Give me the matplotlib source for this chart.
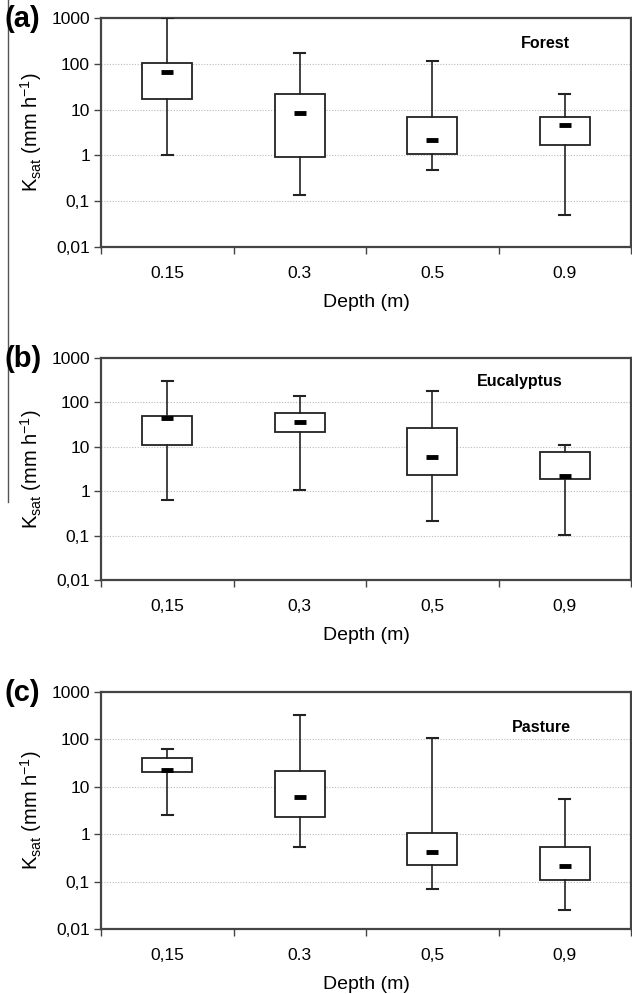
import matplotlib
matplotlib.use("Agg")
import matplotlib.pyplot as plt
from matplotlib.lines import Line2D
import numpy as np

plt.rcParams['font.family'] = ['Liberation Sans', 'DejaVu Sans']
plt.rcParams['mathtext.fontset'] = 'custom'
plt.rcParams['mathtext.rm'] = 'Liberation Sans'

depths = ['0.15', '0.3', '0.5', '0.9']
panels = ['(a)', '(b)', '(c)']
land_uses = ['Forest', 'Eucalyptus', 'Pasture']
xticklabels = [['0.15', '0.3', '0.5', '0.9'],
               ['0,15', '0,3', '0,5', '0,9'],
               ['0,15', '0.3', '0,5', '0,9']]

# Ksat (mm h-1) per depth: whisker low, Q1, median, Q3, whisker high
forest_lo = [1.0, 0.14, 0.48, 0.05]
forest_q1 = [17, 0.9, 1.1, 1.65]
forest_med = [65, 8.5, 2.2, 4.7]
forest_q3 = [105, 22, 7, 7]
forest_hi = [1000, 170, 115, 22]

euc_lo = [0.65, 1.05, 0.21, 0.105]
euc_q1 = [11, 22, 2.3, 1.85]
euc_med = [44, 36, 5.8, 2.2]
euc_q3 = [50, 58, 26, 7.8]
euc_hi = [300, 140, 185, 11]

past_lo = [2.6, 0.53, 0.07, 0.025]
past_q1 = [21, 2.3, 0.22, 0.11]
past_med = [23, 6, 0.43, 0.21]
past_q3 = [40, 22, 1.05, 0.53]
past_hi = [62, 330, 108, 5.6]

data = [(forest_lo, forest_q1, forest_med, forest_q3, forest_hi),
        (euc_lo, euc_q1, euc_med, euc_q3, euc_hi),
        (past_lo, past_q1, past_med, past_q3, past_hi)]

W, H = 632, 994
fig = plt.figure(figsize=(W / 100, H / 100), dpi=100)

# axes boxes in pixels: left, top, right, bottom
boxes = [(101, 18, 631, 247), (101, 358, 631, 580), (101, 692, 631, 929)]
title_pos = [(0.838, 0.89), (0.79, 0.895), (0.83, 0.85)]

spine_col = '#444444'
yticks = [0.01, 0.1, 1, 10, 100, 1000]
ytick_labels = ['0,01', '0,1', '1', '10', '100', '1000']

for i in range(3):
    l, t, r, b = boxes[i]
    ax = fig.add_axes([l / W, 1 - b / H, (r - l) / W, (b - t) / H])
    lo, q1, med, q3, hi = data[i]
    stats = []
    for j in range(len(depths)):
        stats.append({'whislo': lo[j], 'q1': q1[j], 'med': med[j],
                      'q3': q3[j], 'whishi': hi[j], 'fliers': []})
    pos = np.arange(1, len(depths) + 1)
    ax.bxp(stats, positions=pos, widths=0.38, capwidths=0.08,
           showfliers=False, patch_artist=True,
           boxprops=dict(facecolor='white', edgecolor='#222222', linewidth=1.3),
           whiskerprops=dict(color='#222222', linewidth=1.2),
           capprops=dict(color='#222222', linewidth=1.5),
           medianprops=dict(visible=False), zorder=3)
    ax.plot(pos, med, linestyle='none', marker='_', markersize=9,
            markeredgewidth=3.5, color='black', zorder=4)

    ax.set_yscale('log')
    ax.set_ylim(0.01, 1000)
    ax.set_yticks(yticks)
    ax.set_yticklabels(ytick_labels)
    ax.yaxis.set_minor_locator(matplotlib.ticker.NullLocator())
    ax.set_xlim(0.5, 4.5)
    ax.set_xticks(np.arange(0.5, 4.6, 1.0))
    ax.set_xticklabels([])
    ax.set_xticks(pos, minor=True)
    ax.set_xticklabels(xticklabels[i], minor=True)
    ax.tick_params(axis='x', which='major', direction='out', length=5,
                   width=1, color=spine_col)
    ax.tick_params(axis='x', which='minor', length=0, pad=14, labelsize=12.5)
    ax.tick_params(axis='y', direction='out', length=5, width=1,
                   color=spine_col, labelsize=12.5, pad=3)
    for s in ax.spines.values():
        s.set_color(spine_col)
        s.set_linewidth(1.6)
    for v in [0.1, 1, 10, 100]:
        ax.axhline(v, color='#bbbbbb', linestyle=(0, (1, 1.5)),
                   linewidth=0.8, zorder=1)

    ax.set_xlabel('Depth (m)', fontsize=14, labelpad=9)
    ax.set_ylabel(r'K$_{\mathregular{sat}}$ (mm h$^{\mathregular{-1}}$)',
                  fontsize=14.5, labelpad=5)
    ax.text(title_pos[i][0], title_pos[i][1], land_uses[i],
            transform=ax.transAxes, ha='center', va='center',
            fontsize=11.5, fontweight='bold')
    fig.text(5 / W, 1 - (t + 1) / H, panels[i], ha='left', va='center',
             fontsize=21, fontweight='bold')

# thin scan border on the left edge
fig.add_artist(Line2D([8 / W, 8 / W], [1.0, 1 - 502 / H],
                      color='#555555', linewidth=1.0))

fig.savefig('out.png', dpi=100)
